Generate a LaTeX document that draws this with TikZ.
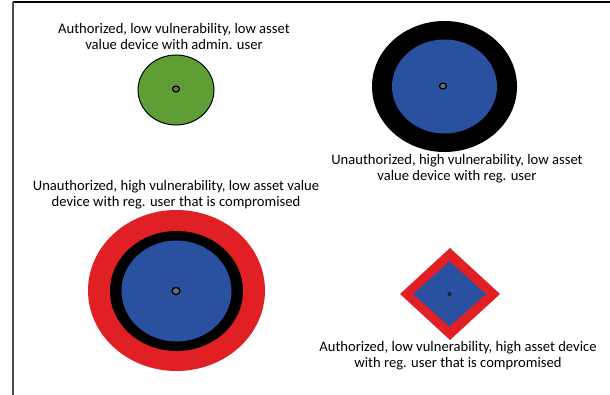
\documentclass[tikz,border=0pt]{standalone}
\usepackage{fontspec}
\setmainfont{Carlito}
\usetikzlibrary{shapes.geometric}
\definecolor{devgreen}{RGB}{94,158,52}
\definecolor{devblue}{RGB}{42,80,160}
\definecolor{devred}{RGB}{224,32,36}
\definecolor{dotgrey}{RGB}{110,110,110}
\begin{document}
\begin{tikzpicture}[x=1pt, y=-1pt,
		lbl/.style={align=center, font=\fontsize{14.6}{16}\selectfont, inner sep=0pt},
		core/.style={draw=black, line width=1.2pt, fill=dotgrey}]
			\useasboundingbox (0,0) rectangle (610,395);
			% frame
			\draw[line width=1.2pt] (13,2) -- (610,2);
			\draw[line width=1.6pt, black!70] (13,2) -- (13,395);
			% admin device
			\draw[fill=devgreen, line width=1pt] (176,90) ellipse (38 and 35);
			\draw[core] (176,89) ellipse (3.5 and 3);
			\node[lbl] (admin) at (174,36.5) {Authorized, low vulnerability, low asset\\value device with admin. user};
			% unauthorized device
			\fill[black] (444.5,86.5) ellipse (72.5 and 65.5);
			\fill[devblue] (444.5,86.5) ellipse (52.5 and 47);
			\draw[core] (443,86) ellipse (3.5 and 3);
			\node[lbl] (unauth) at (457,168.5) {Unauthorized, high vulnerability, low asset\\value device with reg. user};
			% compromised unauthorized device
			\fill[devred] (176.5,290.5) ellipse (88.5 and 80.5);
			\fill[black] (176.5,291) ellipse (66.5 and 60);
			\fill[devblue] (176.5,291) ellipse (55 and 50.5);
			\draw[core] (176,291) ellipse (4 and 3.5);
			\node[lbl] (unauthcomp) at (176,195) {Unauthorized, high vulnerability, low asset value\\device with reg. user that is compromised};
			% compromised high asset device
			\fill[devred] (450,248) -- (500,294) -- (450,340) -- (400,294) -- cycle;
			\fill[devblue] (449.5,261.5) -- (486,294) -- (449.5,326.5) -- (413,294) -- cycle;
			\draw[core, line width=0.8pt] (449.5,294) circle (1.6);
			\node[lbl] (authcomp) at (458,355.5) {Authorized, low vulnerability, high asset device\\with reg. user that is compromised};
		\end{tikzpicture}
\end{document}
